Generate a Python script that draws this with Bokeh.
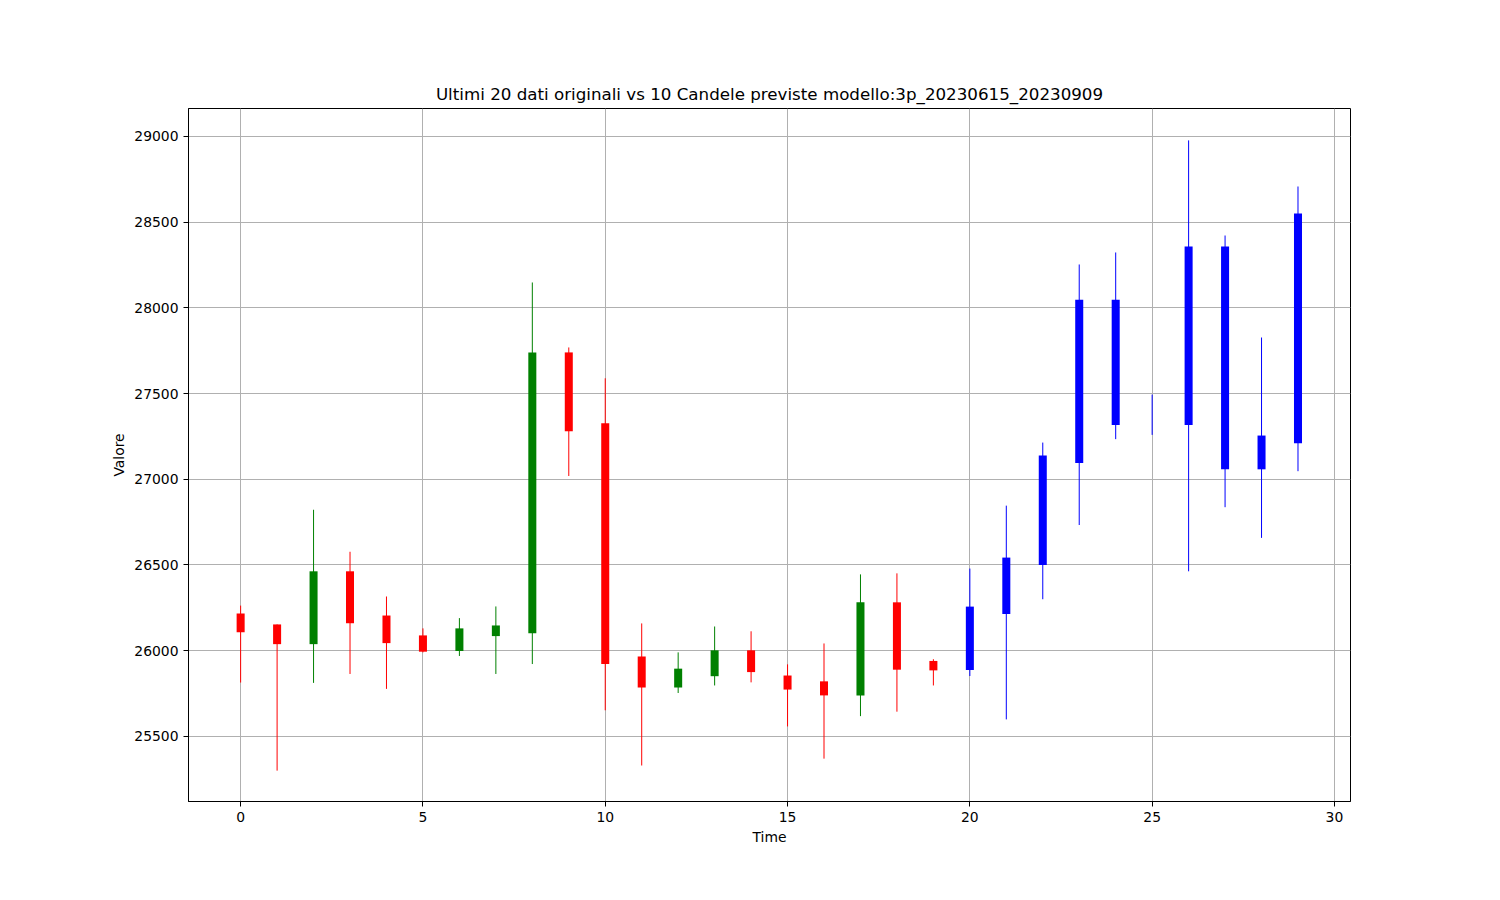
from bokeh.plotting import figure
from bokeh.models import ColumnDataSource, FixedTicker, Range1d
from bokeh.embed import file_html
from bokeh.resources import INLINE

# ---- data ----
time_idx = list(range(30))
open_p = [26217, 26153, 26038, 26463, 26205, 26089, 25998, 26085, 26102, 27740,
          27327, 25966, 25785, 25851, 26002, 25855, 25821, 25739, 26282, 25940,
          25887, 26214, 26500, 27095, 27317, 27380, 27317, 27058, 27058, 27210]
close_p = [26108, 26038, 26463, 26160, 26044, 25994, 26130, 26147, 27740, 27280,
           25922, 25785, 25895, 26002, 25875, 25773, 25739, 26282, 25889, 25885,
           26257, 26543, 27138, 28047, 28047, 27380, 28358, 28358, 27255, 28551]
high_p = [26263, 26153, 26822, 26577, 26316, 26130, 26190, 26258, 28148, 27769,
          27589, 26159, 25990, 26141, 26113, 25920, 26042, 26445, 26451, 25950,
          26479, 26846, 27214, 28253, 28323, 27494, 28977, 28422, 27827, 28708]
low_p = [25814, 25300, 25812, 25864, 25777, 25990, 25969, 25864, 25922, 27019,
         25652, 25330, 25753, 25797, 25815, 25558, 25370, 25618, 25644, 25797,
         25852, 25599, 26300, 26733, 27234, 27259, 26463, 26837, 26658, 27047]
n_original = 20
x_ticks = [0, 5, 10, 15, 20, 25, 30]
y_ticks = [25500, 26000, 26500, 27000, 27500, 28000, 28500, 29000]

colors = []
for i in time_idx:
    if i >= n_original:
        colors.append("#0000ff")
    elif close_p[i] > open_p[i]:
        colors.append("#008000")
    else:
        colors.append("#ff0000")

src = ColumnDataSource(dict(
    x=time_idx,
    top=[max(o, c) for o, c in zip(open_p, close_p)],
    bottom=[min(o, c) for o, c in zip(open_p, close_p)],
    high=high_p, low=low_p, color=colors,
))

FONT = "DejaVu Sans"
p = figure(width=1492, height=892, output_backend="svg", toolbar_location=None,
           x_range=Range1d(-1.43, 30.44), y_range=Range1d(25120, 29163),
           title="Ultimi 20 dati originali vs 10 Candele previste modello:3p_20230615_20230909",
           min_border_left=188, min_border_right=142, min_border_top=108, min_border_bottom=91)

p.title.align = "center"
p.title.text_font = FONT
p.title.text_font_size = "16.7px"
p.title.text_font_style = "normal"
p.title.text_color = "black"

p.outline_line_color = "black"
p.outline_line_width = 1
p.outline_line_alpha = 1

for ax in (p.xaxis[0], p.yaxis[0]):
    ax.axis_line_color = "black"
    ax.major_tick_out = 5
    ax.major_tick_in = 0
    ax.minor_tick_line_color = None
    ax.major_tick_line_color = "black"
    ax.major_label_text_font = FONT
    ax.major_label_text_font_size = "13.9px"
    ax.major_label_text_color = "black"
    ax.axis_label_text_font = FONT
    ax.axis_label_text_font_size = "13.9px"
    ax.axis_label_text_font_style = "normal"
    ax.axis_label_text_color = "black"

p.xaxis.ticker = FixedTicker(ticks=x_ticks)
p.yaxis.ticker = FixedTicker(ticks=y_ticks)
p.xaxis.axis_label = "Time"
p.yaxis.axis_label = "Valore"
p.xaxis.axis_label_standoff = 4
p.yaxis.axis_label_standoff = 4

p.xgrid.ticker = FixedTicker(ticks=x_ticks)
p.ygrid.ticker = FixedTicker(ticks=y_ticks)
for g in (p.xgrid[0], p.ygrid[0]):
    g.grid_line_color = "#b0b0b0"
    g.grid_line_width = 1

p.segment(x0="x", y0="low", x1="x", y1="high", color="color", line_width=1, source=src)
p.vbar(x="x", top="top", bottom="bottom", width=0.22, fill_color="color",
       line_color=None, source=src)

open("out.html", "w").write(file_html(p, INLINE))
